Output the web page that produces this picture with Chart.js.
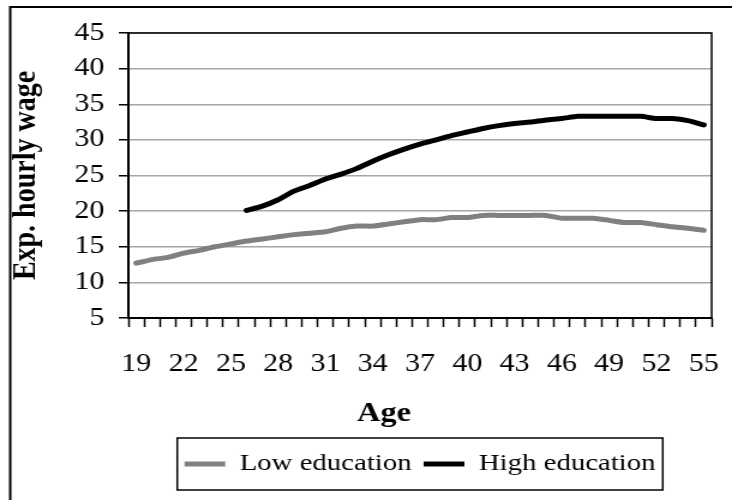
<!DOCTYPE html>
<html>
<head>
<meta charset="utf-8">
<script src="https://cdn.jsdelivr.net/npm/chart.js@4.4.1/dist/chart.umd.min.js"></script>
<style>
body { margin: 0; background: #fff; }
/* the reference is a bit wider than tall in its lettering, so the chart is stretched sideways */
#wrap { width: 610px; height: 500px; transform: scaleX(1.2); transform-origin: 0 0; }
</style>
</head>
<body>
<div id="wrap"><canvas id="chart" width="610" height="500"></canvas></div>
<script>
const ages = [19, 20, 21, 22, 23, 24, 25, 26, 27, 28, 29, 30, 31, 32, 33, 34, 35, 36, 37,
	38, 39, 40, 41, 42, 43, 44, 45, 46, 47, 48, 49, 50, 51, 52, 53, 54, 55]
const lowEducation = [12.7, 13.2, 13.5, 14.1, 14.5, 15.0, 15.4, 15.8, 16.1, 16.4, 16.7, 16.9,
	17.1, 17.6, 17.9, 17.9, 18.2, 18.5, 18.8, 18.8, 19.1, 19.1, 19.4, 19.4, 19.4, 19.4, 19.4,
	19.0, 19.0, 19.0, 18.7, 18.4, 18.4, 18.1, 17.8, 17.6, 17.3]
const highEducation = [null, null, null, null, null, null, null, 20.1, 20.7, 21.6, 22.8, 23.6,
	24.5, 25.2, 26.0, 27.0, 27.9, 28.7, 29.4, 30.0, 30.6, 31.1, 31.6, 32.0, 32.3, 32.5, 32.8,
	33.0, 33.3, 33.3, 33.3, 33.3, 33.3, 33.0, 33.0, 32.7, 32.1]
const shownAges = [19, 22, 25, 28, 31, 34, 37, 40, 43, 46, 49, 52, 55]
const yTicks = [5, 10, 15, 20, 25, 30, 35, 40, 45]

const serif = '"Liberation Serif", "Times New Roman", serif'

const frames = {
	id: 'frames',
	afterDraw(chart) {
		const { ctx, chartArea: a, legend } = chart
		ctx.save()
		ctx.strokeStyle = '#000'
		// outer border, runs off the right and bottom edge
		ctx.lineWidth = 2
		ctx.strokeRect(8.5, 7, chart.width + 20, chart.height + 20)
		// plot box
		ctx.lineWidth = 1.5
		ctx.strokeRect(a.left, a.top, a.right - a.left, a.bottom - a.top)
		// x axis title, Excel put it left of centre
		ctx.font = 'bold 27px ' + serif
		ctx.fillStyle = '#000'
		ctx.textAlign = 'center'
		ctx.textBaseline = 'alphabetic'
		ctx.fillText('Age', (a.left + a.right) / 2 - 30, a.bottom + 103)
		// box round the legend
		const hb = legend.legendHitBoxes
		const l = Math.min(...hb.map(b => b.left)) - 6
		const r = Math.max(...hb.map(b => b.left + b.width)) + 6
		const mid = hb[0].top + hb[0].height / 2
		ctx.lineWidth = 1.5
		ctx.strokeRect(l, mid - 26, r - l, 52)
		ctx.restore()
	}
}

new Chart(document.getElementById('chart'), {
	type: 'line',
	data: {
		labels: ages,
		datasets: [{
			label: 'Low education',
			data: lowEducation,
			borderColor: '#808080',
			backgroundColor: '#808080',
			borderWidth: 5,
			borderCapStyle: 'round',
			borderJoinStyle: 'round',
			pointRadius: 0,
			tension: 0.2
		}, {
			label: 'High education',
			data: highEducation,
			borderColor: '#000',
			backgroundColor: '#000',
			borderWidth: 5,
			borderCapStyle: 'round',
			borderJoinStyle: 'round',
			pointRadius: 0,
			tension: 0.2
		}]
	},
	options: {
		responsive: false,
		animation: false,
		layout: { padding: { left: 0, right: 17, top: 33, bottom: 14 } },
		scales: {
			x: {
				offset: true,
				grid: { offset: true, drawOnChartArea: false, tickLength: 9, tickColor: '#000', tickWidth: 1.5 },
				border: { color: '#000', width: 2 },
				ticks: {
					autoSkip: false,
					maxRotation: 0,
					padding: 22,
					color: '#000',
					font: { family: serif, size: 25 },
					callback: function(v, i) {
						const age = ages[i]
						return shownAges.includes(age) ? String(age) : ''
					}
				},
				afterFit: s => { s.height = 124; s.paddingLeft = 0; s.paddingRight = 0 }
			},
			y: {
				min: yTicks[0],
				max: yTicks[yTicks.length - 1],
				ticks: { stepSize: 5, padding: 12, color: '#000', font: { family: serif, size: 25 } },
				grid: { color: '#a6a6a6', lineWidth: 1.5, tickLength: 8, tickColor: '#000', tickWidth: 1.5 },
				border: { color: '#000', width: 2 },
				title: {
					display: true,
					text: 'Exp. hourly wage',
					color: '#000',
					padding: { top: 5, bottom: 0 },
					font: { family: serif, size: 28, weight: 'bold' }
				},
				afterFit: s => { s.width = 107 }
			}
		},
		plugins: {
			legend: {
				position: 'bottom',
				fullSize: false,
				labels: {
					usePointStyle: true,
					pointStyle: 'line',
					pointStyleWidth: 34,
					padding: 10,
					color: '#000',
					font: { family: serif, size: 24 }
				}
			},
			tooltip: { enabled: false }
		}
	},
	plugins: [frames]
})
</script>
</body>
</html>
